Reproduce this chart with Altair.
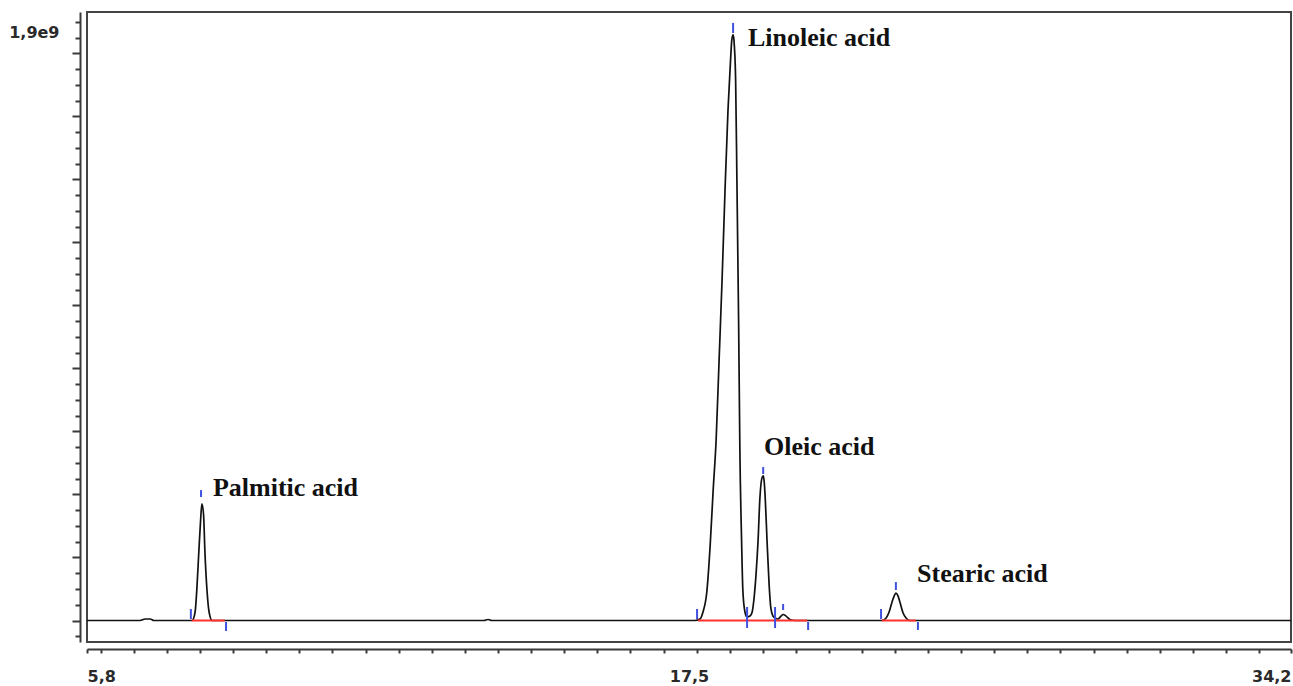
import altair as alt
import pandas as pd

# ---- chromatogram trace: retention time (min) and detector signal (counts)
time_min = [5.80, 7.05, 7.17, 7.29, 7.38, 8.20, 8.28, 8.35, 8.39, 8.44, 8.48, 8.51,
            8.55, 8.58, 8.63, 8.68, 8.75, 15.16, 15.26, 15.35, 20.14, 20.26, 20.33,
            20.42, 20.50, 20.57, 20.64, 20.71, 20.78, 20.85, 20.92, 20.98, 21.01,
            21.04, 21.06, 21.10, 21.13, 21.17, 21.20, 21.24, 21.27, 21.32, 21.37,
            21.44, 21.49, 21.53, 21.58, 21.63, 21.67, 21.72, 21.75, 21.77, 21.80,
            21.84, 21.89, 21.93, 21.98, 22.03, 22.10, 22.17, 22.22, 22.29, 22.38,
            22.50, 24.55, 24.65, 24.72, 24.79, 24.84, 24.88, 24.93, 24.98, 25.05,
            25.12, 25.21, 34.20]
signal = [0, 0, 4.8e6, 4.8e6, 0, 0, 0, 2.7e7, 9.7e7, 2.24e8, 3.19e8, 3.70e8,
          3.35e8, 2.24e8, 9.7e7, 2.7e7, 0, 0, 3.2e6, 0, 0, 4.8e6, 2.7e7,
          9.05e7, 2.40e8, 4.14e8, 5.73e8, 8.27e8, 1.081e9, 1.367e9, 1.621e9, 1.779e9, 1.843e9,
          1.859e9, 1.843e9, 1.716e9, 1.398e9, 9.54e8, 5.41e8, 2.56e8, 9.7e7, 2.7e7, 1.1e7,
          1.4e7, 2.7e7, 6.5e7, 1.44e8, 2.56e8, 3.83e8, 4.52e8, 4.59e8, 4.46e8, 3.83e8,
          2.56e8, 1.13e8, 4.0e7, 1.4e7, 7.9e6, 4.8e6, 1.4e7, 1.9e7, 1.4e7, 3.2e6,
          0, 0, 7.9e6, 2.7e7, 5.9e7, 7.8e7, 8.7e7, 7.8e7, 5.6e7, 2.4e7,
          7.9e6, 0, 0]

# ---- integration event markers (blue)
marker_time = [8.25, 8.49, 9.08, 20.19, 21.04, 21.37, 21.75, 22.03, 22.22, 22.81, 24.53, 24.88, 25.40]
marker_low = [4.8e6, 3.92e8, -3.33e7, 4.8e6, 1.865e9, -2.38e7, 4.65e8, -2.38e7, 3.33e7, -3.02e7, 4.8e6, 9.68e7, -3.02e7]
marker_high = [3.65e7, 4.14e8, -4.8e6, 3.65e7, 1.897e9, 4.29e7, 4.87e8, 4.29e7, 5.24e7, -4.8e6, 3.65e7, 1.22e8, -4.8e6]

# ---- integration baselines (red)
base_start = [8.27, 20.21, 24.55]
base_end = [9.05, 22.79, 25.35]
base_level = [0.0, 0.0, 0.0]

# ---- peak annotations
peak_names = ["Palmitic acid", "Linoleic acid", "Oleic acid", "Stearic acid"]
label_time = [8.77, 21.39, 21.77, 25.38]
label_signal = [3.95e8, 1.824e9, 5.25e8, 1.22e8]

# ---- axes
x_tick_values = [5.8, 6.13, 6.91, 7.69, 8.47, 9.25, 10.03, 10.81, 11.59, 12.37, 13.15,
                 13.94, 14.72, 15.50, 16.28, 17.06, 17.84, 18.62, 19.40, 20.18, 20.96,
                 21.74, 22.52, 23.30, 24.08, 24.86, 25.64, 26.42, 27.20, 27.98, 28.76,
                 29.55, 30.33, 31.11, 31.89, 32.67, 33.45, 34.2]
x_label_values = [5.8, 20.0, 34.2]
x_label_text = ["5,8", "17,5", "34,2"]
y_tick_values = [k * 5e7 for k in range(-1, 39)]
y_label_value = 1.9e9
y_label_text = "1,9e9"

X_DOMAIN = [5.8, 34.2]
Y_DOMAIN = [-6.825e7, 1.9317e9]

trace = pd.DataFrame({"t": time_min, "v": signal})
markers = pd.DataFrame({"t": marker_time, "v": marker_low, "v2": marker_high})
bases = pd.DataFrame({"t": base_start, "t2": base_end, "v": base_level})
labels = pd.DataFrame({"t": label_time, "v": label_signal, "name": peak_names})

x_ticks_all = sorted(x_tick_values + [x_label_values[1]])
x_label_expr = "".join(f"datum.value == {v} ? '{s}' : " for v, s in zip(x_label_values, x_label_text)) + "''"
y_label_expr = f"datum.value == {y_label_value} ? '{y_label_text}' : ''"

AX = "#3a3a3a"
x_scale = alt.Scale(domain=X_DOMAIN, nice=False, zero=False)
y_scale = alt.Scale(domain=Y_DOMAIN, nice=False, zero=False)

x_axis = alt.Axis(
    values=x_ticks_all, labelExpr=x_label_expr, labelFlush=True, labelOverlap=False,
    tickSize=4, tickWidth=2, tickColor=AX,
    tickOpacity={"condition": {"test": f"datum.value == {x_label_values[1]}", "value": 0}, "value": 1},
    domainColor=AX, domainWidth=2, offset=7, labelPadding=15,
    labelFont="DejaVu Sans", labelFontWeight="bold", labelFontSize=16, labelColor="#2a2a2a",
    grid=False, title=None,
)
y_axis = alt.Axis(
    values=y_tick_values, labelExpr=y_label_expr, labelOverlap=False,
    tickSize={"condition": {"test": "abs(datum.value % 2e8) < 1", "value": 8}, "value": 5},
    tickWidth=2, tickColor=AX, domainColor=AX, domainWidth=2, offset=7,
    labelPadding=16, labelOffset=11,
    labelFont="DejaVu Sans", labelFontWeight="bold", labelFontSize=16, labelColor="#2a2a2a",
    grid=False, title=None,
)

X = alt.X("t:Q", scale=x_scale, axis=x_axis)
Y = alt.Y("v:Q", scale=y_scale, axis=y_axis)

line = alt.Chart(trace).mark_line(color="#111111", strokeWidth=1.7, interpolate="monotone").encode(
    x=X, y=Y,
)
base_rules = alt.Chart(bases).mark_rule(color="#ff3030", strokeWidth=2).encode(
    x=X, x2="t2:Q", y=Y,
)
marker_rules = alt.Chart(markers).mark_rule(color="#4050e0", strokeWidth=2).encode(
    x=X, y=Y, y2="v2:Q",
)
texts = alt.Chart(labels).mark_text(
    align="left", baseline="alphabetic", font="Liberation Serif", fontWeight="bold",
    fontSize=26, color="#111111",
).encode(
    x=X, y=Y, text="name:N",
)

chart = alt.layer(line, base_rules, marker_rules, texts).properties(
    width=1204, height=630,
    padding={"left": 87, "top": 12, "right": 2, "bottom": 44},
    autosize=alt.AutoSizeParams(type="none"),
    background="white",
).configure_view(stroke="#444444", strokeWidth=2)

chart.save("out.html", embed_options={"renderer": "svg", "actions": False})
